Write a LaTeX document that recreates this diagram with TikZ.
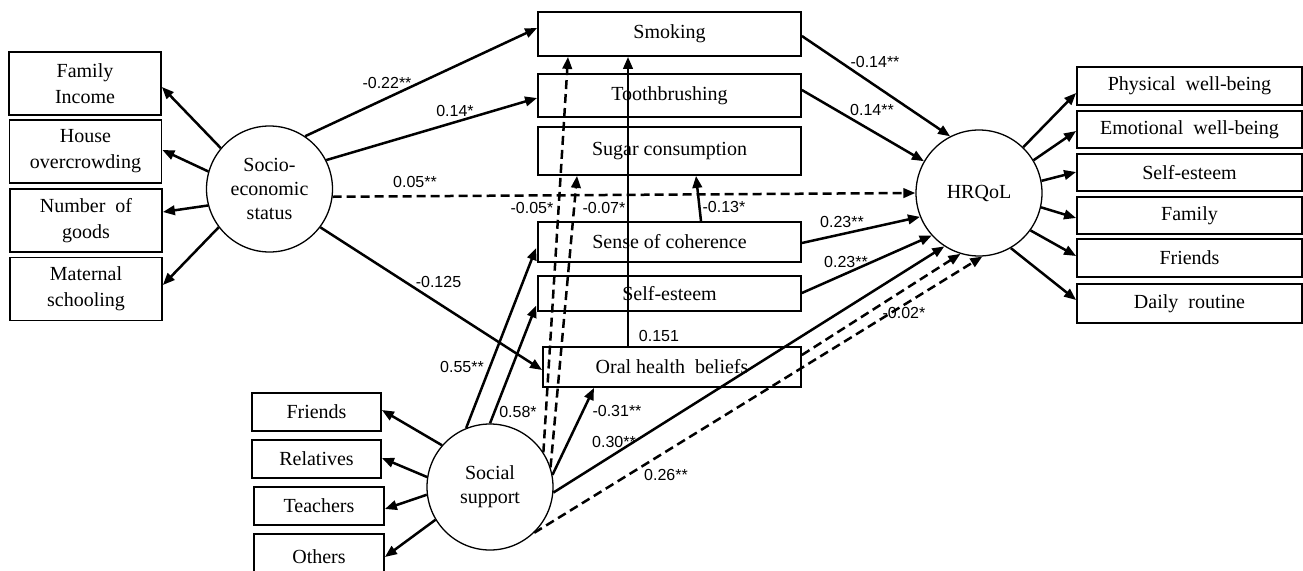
\documentclass[tikz,border=0pt]{standalone}
\usepackage{fontspec}
\setmainfont{Liberation Serif}
\newfontfamily\lblfont{Liberation Sans}
\usetikzlibrary{arrows.meta,calc}
\begin{document}
\begin{tikzpicture}[x=1pt,y=-1pt,
  box/.style={draw,line width=1.8pt,inner sep=0pt,align=center,font=\fontsize{20}{26}\selectfont},
  leftbox/.style={box,minimum width=152pt,minimum height=63pt},
  midbox/.style={box,minimum width=263pt},
  rightbox/.style={box,minimum width=225pt},
  blbox/.style={box,minimum width=129pt,minimum height=38pt},
  lat/.style={draw,circle,line width=1.3pt,minimum size=126pt,inner sep=0pt,align=center,font=\fontsize{20}{24}\selectfont},
  arr/.style={line width=2.5pt,-{Triangle[length=12pt,width=9.5pt]}},
  darr/.style={arr,dash pattern=on 9pt off 5pt},
  lbl/.style={font=\lblfont\fontsize{16}{18}\selectfont,inner sep=0pt},
]
\useasboundingbox (0,0) rectangle (1303,570);

% left indicators
\node[leftbox] (fi) at (85,83.5) {Family\\Income};
\node[leftbox] (ho) at (85.5,151.5) {House\\overcrowding};
\node[leftbox] (ng) at (86,220.5) {Number\ \ of\\goods};
\node[leftbox] (ms) at (86,289) {Maternal\\schooling};

% middle boxes
\node[midbox,minimum height=44pt] (smk) at (669.5,34) {Smoking};
\node[midbox,minimum height=43pt] (tb) at (669.5,95.5) {Toothbrushing};
\node[midbox,minimum height=48pt] (sug) at (669.5,151) {Sugar consumption};
\node[midbox,minimum height=40pt] (soc) at (669.5,242) {Sense of coherence};
\node[midbox,minimum height=35pt] (se) at (669.5,293.5) {Self-esteem};
\node[box,minimum width=258pt,minimum height=40pt] (ohb) at (672,367) {Oral health\ \ beliefs};

% right indicators
\node[rightbox,minimum height=38pt] (pw) at (1189.5,86) {Physical\ \ well-being};
\node[rightbox,minimum height=37pt] (ew) at (1189.5,129.5) {Emotional\ \ well-being};
\node[rightbox,minimum height=37pt] (rse) at (1189.5,172.5) {Self-esteem};
\node[rightbox,minimum height=37pt] (fam) at (1189.5,215.5) {Family};
\node[rightbox,minimum height=38pt] (rfr) at (1189.5,258) {Friends};
\node[rightbox,minimum height=39pt] (dr) at (1189.5,303.5) {Daily\ \ routine};

% bottom-left indicators
\node[blbox] (bfr) at (316.5,412) {Friends};
\node[blbox] (rel) at (316.5,459) {Relatives};
\node[blbox,minimum width=130pt] (tea) at (319,506) {Teachers};
\node[blbox,minimum width=130pt,minimum height=45pt] (oth) at (319,556.5) {Others};

% latent variables
\node[lat] (ses) at (269.5,189) {Socio-\\economic\\status};
\node[lat] (hrq) at (979,193) {HRQoL};
\node[lat] (ss) at (490,487) {Social\\support};

% SES measurement
\draw[arr] (ses.140) -- ($(fi.east)+(0,3.5)$);
\draw[arr] (ses.164) -- ($(ho.east)+(0,-1.5)$);
\draw[arr] (ses.195) -- ($(ng.east)+(0,-8.5)$);
\draw[arr] (ses.217) -- ($(ms.east)+(0,-4)$);

% SES paths
\draw[arr] (ses.56) -- ($(smk.west)+(0,-6)$);
\draw[arr] (ses.27) -- ($(tb.west)+(0,2.5)$);
\draw[darr] (ses.353) -- (hrq.180);
\draw[arr] (ses.323) -- ($(ohb.west)+(0,3)$);

% to HRQoL
\draw[arr] ($(smk.east)+(0,2)$) -- (hrq.117);
\draw[arr] ($(tb.east)+(0,-5.5)$) -- (hrq.150);
\draw[arr] ($(soc.east)+(0,1)$) -- (hrq.202);
\draw[arr] ($(se.east)+(0,-0.5)$) -- (hrq.222);

\draw[arr] ($(soc.north)+(31.5,0)$) -- ($(sug.south)+(26.5,0)$);
\draw[arr] ($(ohb.north)+(-44,0)$) -- ($(smk.south)+(-41.5,0)$);

% Social support paths
\draw[arr] (ss.112) -- ($(soc.west)+(-1,6)$);
\draw[arr] (ss.90) -- ($(se.west)+(-1,12)$);
\draw[darr] (ss.33) -- ($(smk.south)+(-101.5,0)$);
\draw[darr] (ss.18) -- ($(sug.south)+(-92.5,0)$);
\draw[arr] (ss.11) -- ($(ohb.south)+(-78,0)$);
\draw[arr] (ss.355) -- (hrq.237);
\draw[darr] ($(ohb.east)+(0,-12)$) -- (hrq.253);
\draw[darr] (ss.314) -- (hrq.273);

% Social support measurement
\draw[arr] (ss.139) -- ($(bfr.east)+(0,-2)$);
\draw[arr] (ss.171) -- ($(rel.east)+(0,-1)$);
\draw[arr] (ss.187) -- ($(tea.east)+(0,3)$);
\draw[arr] (ss.211) -- ($(oth.east)+(0,0.5)$);

% HRQoL measurement
\draw[arr] (hrq.46) -- ($(pw.west)+(0,7)$);
\draw[arr] (hrq.31) -- ($(ew.west)+(0,1.5)$);
\draw[arr] (hrq.11) -- ($(rse.west)+(0,-0.5)$);
\draw[arr] (hrq.347) -- ($(fam.west)+(0,2.5)$);
\draw[arr] (hrq.324) -- ($(rfr.west)+(0,-2)$);
\draw[arr] (hrq.300) -- ($(dr.west)+(0,-3.5)$);

% labels
\node[lbl] (l1) at (387,83) {-0.22**};
\node[lbl] (l2) at (455,111) {0.14*};
\node[lbl] (l3) at (415,182) {0.05**};
\node[lbl] (l4) at (438.5,282) {-0.125};
\node[lbl] (l5) at (532,208) {-0.05*};
\node[lbl] (l6) at (604,208) {-0.07*};
\node[lbl] (l7) at (724,207) {-0.13*};
\node[lbl] (l8) at (875,62) {-0.14**};
\node[lbl] (l9) at (872,110) {0.14**};
\node[lbl] (l10) at (842,222) {0.23**};
\node[lbl] (l11) at (846,262) {0.23**};
\node[lbl] (l12) at (659,336) {0.151};
\node[lbl] (l13) at (462,367) {0.55**};
\node[lbl] (l14) at (518,412) {0.58*};
\node[lbl] (l15) at (617,411) {-0.31**};
\node[lbl] (l16) at (614,442) {0.30**};
\node[lbl] (l17) at (666,475) {0.26**};
\node[lbl] (l18) at (904,313) {-0.02*};
\end{tikzpicture}
\end{document}
